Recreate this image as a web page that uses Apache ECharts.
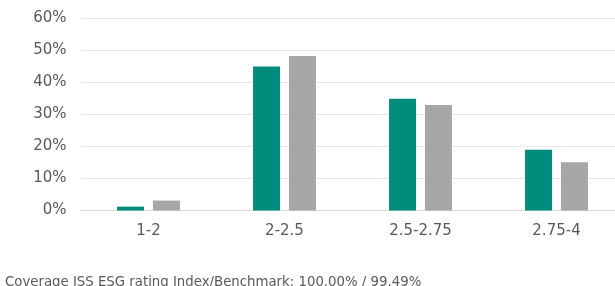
<!DOCTYPE html>
<html>
<head>
<meta charset="utf-8">
<script src="https://cdn.jsdelivr.net/npm/echarts@6/dist/echarts.min.js"></script>
<style>
  html, body { margin: 0; padding: 0; background: #fff; }
  #chart { width: 615px; height: 286px; }
</style>
</head>
<body>
<div id="chart"></div>
<script>
// rating buckets
const categories = ["1-2", "2-2.5", "2.5-2.75", "2.75-4"];
const indexValues = [1.2, 45.0, 34.9, 19.0];
const benchmarkValues = [3.1, 48.3, 33.0, 15.1];
const yTicks = [0, 10, 20, 30, 40, 50, 60];
const footnote = "Coverage ISS ESG rating Index/Benchmark: 100.00% / 99.49%";

const chart = echarts.init(document.getElementById("chart"));
const font = "DejaVu Sans, Verdana, sans-serif";

const option = {
  animation: false,
  title: {
    text: footnote,
    left: 0,
    top: 271,
    textStyle: {
      fontFamily: font,
      fontSize: 13.3,
      fontWeight: "normal",
      color: "#595959",
    },
  },
  grid: {
    left: 80.5,
    width: 544,
    top: 18.5,
    height: 192,
    outerBoundsMode: "none",
  },
  xAxis: {
    type: "category",
    data: categories,
    axisTick: { show: false },
    axisLine: { lineStyle: { color: "#d9d9d9", width: 1 } },
    axisLabel: {
      fontFamily: font,
      fontSize: 15,
      color: "#595959",
      margin: 13,
    },
  },
  yAxis: {
    type: "value",
    min: yTicks[0],
    max: yTicks[yTicks.length - 1],
    interval: 10,
    axisLine: { show: false },
    axisTick: { show: false },
    splitLine: { lineStyle: { color: "#e6e6e6", width: 1 } },
    axisLabel: {
      fontFamily: font,
      fontSize: 15,
      color: "#595959",
      margin: 14,
      formatter: (v) => v + "%",
    },
  },
  series: [
    {
      name: "Index",
      type: "bar",
      data: indexValues,
      barWidth: 27,
      barGap: "33%",
      itemStyle: { color: "#008c7c" },
    },
    {
      name: "Benchmark",
      type: "bar",
      data: benchmarkValues,
      barWidth: 27,
      itemStyle: { color: "#a6a6a6" },
    },
  ],
};
chart.setOption(option);
</script>
</body>
</html>
